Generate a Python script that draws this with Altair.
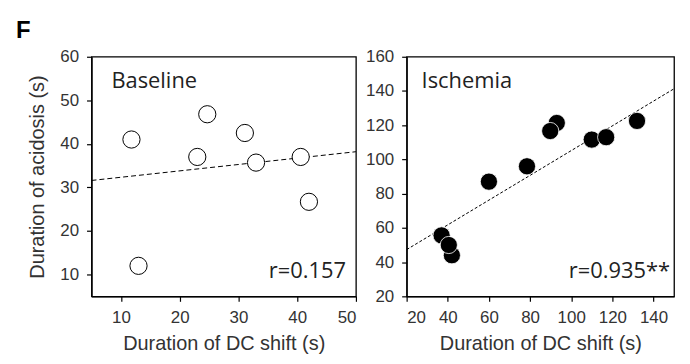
import altair as alt
import pandas as pd

# ---- data ----
base_x = [11.8, 13.0, 23.0, 24.7, 31.1, 33.0, 40.6, 42.0]
base_y = [41.0, 12.0, 37.0, 46.8, 42.5, 35.7, 37.0, 26.7]
base_fit_x = [5, 50]
base_fit_y = [31.6, 38.2]

isch_x = [37.0, 42.0, 40.5, 60.0, 78.5, 93.0, 89.8, 110.0, 117.0, 132.0]
isch_y = [55.6, 44.0, 50.0, 87.0, 96.0, 121.3, 116.6, 111.6, 113.0, 122.5]
isch_fit_x = [20, 150]
isch_fit_y = [47.3, 141.3]

base_xticks = [10, 20, 30, 40, 50]
base_yticks = [10, 20, 30, 40, 50, 60]
isch_xticks = [20, 40, 60, 80, 100, 120, 140]
isch_yticks = [20, 40, 60, 80, 100, 120, 140, 160]

AXF = "Liberation Sans"
TXF = "Open Sans"
XTITLE = "Duration of DC shift (s)"
YTITLE = "Duration of acidosis (s)"


def panel(px, py, fx, fy, xdom, ydom, xticks, yticks, w, h, filled,
          label, rtext, ytitle, panel_letter=None):
    pts = pd.DataFrame({"x": px, "y": py})
    fit = pd.DataFrame({"x": fx, "y": fy})
    xs = alt.Scale(domain=xdom, nice=False, zero=False)
    ys = alt.Scale(domain=ydom, nice=False, zero=False)
    xax = alt.Axis(values=xticks, title=XTITLE, format="d", labelOverlap=False,
                   tickCount=len(xticks))
    yax = alt.Axis(values=yticks, title=YTITLE if ytitle else None, format="d",
                   labelOverlap=False, tickCount=len(yticks), labelSeparation=0)

    line = alt.Chart(fit).mark_line(
        color="black", strokeWidth=1, strokeDash=[5, 3] if not filled else [3, 2]
    ).encode(x=alt.X("x:Q", scale=xs, axis=xax), y=alt.Y("y:Q", scale=ys, axis=yax))

    if filled:
        pm = alt.Chart(pts).mark_point(
            shape="circle", filled=True, fill="black", stroke="white",
            strokeWidth=0.8, size=300, opacity=1)
    else:
        pm = alt.Chart(pts).mark_point(
            shape="circle", filled=True, fill="white", stroke="black",
            strokeWidth=1, size=300, opacity=1)
    points = pm.encode(x=alt.X("x:Q", scale=xs, axis=xax),
                       y=alt.Y("y:Q", scale=ys, axis=yax))

    lab = alt.Chart(pd.DataFrame({"t": [label]})).mark_text(
        font=TXF, fontSize=22, color="#222", align="left", baseline="alphabetic"
    ).encode(x=alt.value(20 if not filled else 15), y=alt.value(31), text="t:N")

    rt = alt.Chart(pd.DataFrame({"t": [rtext]})).mark_text(
        font=TXF, fontSize=22, color="#222", align="right", baseline="alphabetic"
    ).encode(x=alt.value(w - (10 if not filled else 4)), y=alt.value(223), text="t:N")

    layers = [line, points, lab, rt]
    if panel_letter:
        F = alt.Chart(pd.DataFrame({"t": [panel_letter]})).mark_text(
            font=AXF, fontSize=24, fontWeight="bold", color="black",
            align="left", baseline="alphabetic"
        ).encode(x=alt.value(-76), y=alt.value(-19), text="t:N")
        layers.append(F)
    return alt.layer(*layers).properties(width=w, height=h)


left = panel(base_x, base_y, base_fit_x, base_fit_y, [5, 50], [5, 60],
             base_xticks, base_yticks, 266, 241, False, "Baseline", "r=0.157",
             True, "F")
right = panel(isch_x, isch_y, isch_fit_x, isch_fit_y, [20, 150], [20, 160],
              isch_xticks, isch_yticks, 269, 241, True, "Ischemia", "r=0.935**",
              False)

chart = alt.hconcat(left, right, spacing=51, bounds="flush").properties(
    padding={"left": 7, "top": 9, "right": 5, "bottom": 5}
).configure_view(
    stroke="black", strokeWidth=1.3
).configure_axis(
    grid=False, domainColor="black", domainWidth=1.3, tickColor="black",
    tickSize=5, tickWidth=1.2, labelFont=AXF, labelFontSize=17, labelColor="#333",
    titleFont=AXF, titleFontSize=20, titleFontWeight="normal", titleColor="#333",
    labelPadding=8, labelOverlap=False
).configure_axisY(titlePadding=12, labelOverlap=False).configure_axisX(titlePadding=8)

chart.save("out.html", embed_options={"renderer": "svg", "actions": False})
